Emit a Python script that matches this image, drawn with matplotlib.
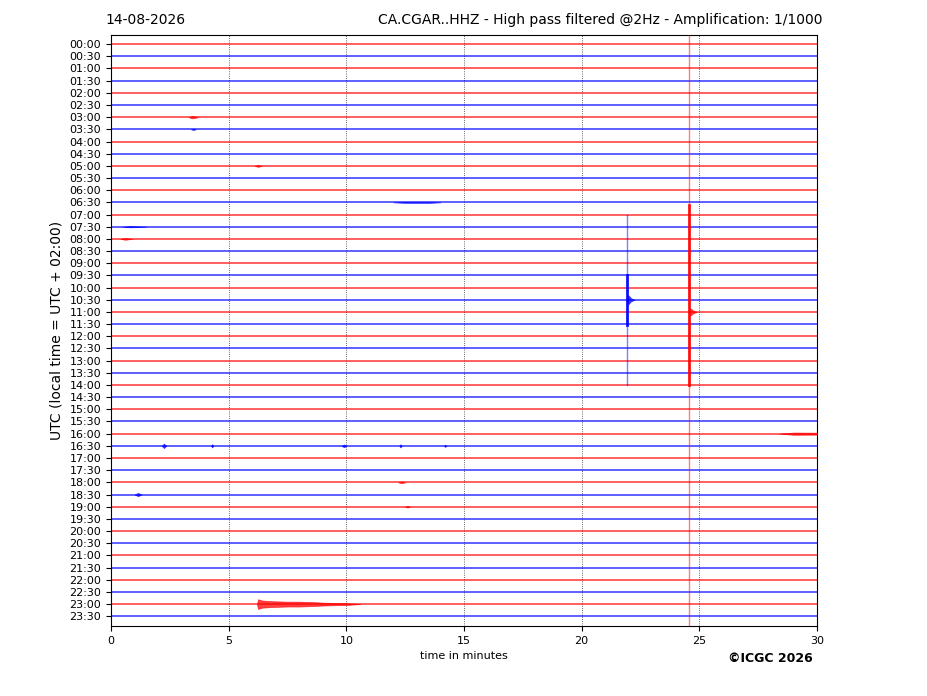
import matplotlib
matplotlib.use("Agg")
import matplotlib.pyplot as plt
import numpy as np

# ---------------- data ----------------
trace_labels = [f"{h:02d}:{m:02d}" for h in range(24) for m in (0, 30)]
trace_colors = ["red" if lab.endswith(":00") else "blue" for lab in trace_labels]

date_text = "14-08-2026"
title_text = "CA.CGAR..HHZ - High pass filtered @2Hz - Amplification: 1/1000"
x_ticks = [0, 5, 10, 15, 20, 25, 30]

# large off-scale arrivals: trace, time (min), core extent (trace units up/down), faint extent
spike_traces = ["10:30", "11:00"]
spike_times = [21.93, 24.56]
spike_core_up = [2.0, 8.8]
spike_core_down = [2.1, 6.0]
spike_faint_up = [7.0, 60.0]
spike_faint_down = [7.0, 60.0]

# small signals: trace, envelope times (min), envelope half-amplitudes (trace units)
blip_traces = ["03:00", "03:30", "05:00", "06:30", "07:30", "08:00",
               "10:30", "11:00",
               "16:00", "16:30", "16:30", "16:30", "16:30", "16:30",
               "18:00", "18:30", "19:00", "23:00"]
blip_times = [
    [3.3, 3.45, 3.7],
    [3.4, 3.5, 3.6],
    [6.1, 6.25, 6.4],
    [12.0, 12.5, 13.5, 14.0],
    [0.5, 0.8, 1.5],
    [0.4, 0.6, 0.9],
    [21.93, 21.98, 22.1, 22.25],
    [24.56, 24.62, 24.75, 24.9],
    [28.4, 29.0, 30.0],
    [2.15, 2.25, 2.35],
    [4.25, 4.3, 4.35],
    [9.8, 9.9, 10.0],
    [12.25, 12.3, 12.35],
    [14.15, 14.2, 14.25],
    [12.2, 12.35, 12.5],
    [1.0, 1.15, 1.3],
    [12.5, 12.6, 12.7],
    [6.2, 6.25, 6.4, 6.8, 7.5, 8.0, 8.6, 9.0, 10.0, 10.6],
]
blip_amps = [
    [0.0, 0.1, 0.0],
    [0.0, 0.05, 0.0],
    [0.0, 0.08, 0.0],
    [0.0, 0.04, 0.04, 0.0],
    [0.0, 0.05, 0.0],
    [0.0, 0.07, 0.0],
    [0.0, 0.38, 0.12, 0.0],
    [0.0, 0.3, 0.1, 0.0],
    [0.0, 0.09, 0.08],
    [0.0, 0.18, 0.0],
    [0.0, 0.13, 0.0],
    [0.0, 0.11, 0.0],
    [0.0, 0.13, 0.0],
    [0.0, 0.09, 0.0],
    [0.0, 0.07, 0.0],
    [0.0, 0.13, 0.0],
    [0.0, 0.07, 0.0],
    [0.0, 0.4, 0.3, 0.24, 0.2, 0.2, 0.16, 0.12, 0.07, 0.0],
]

# ---------------- figure ----------------
fig = plt.figure(figsize=(9.27, 6.96), dpi=100)
ax = fig.add_axes([111 / 927, 1 - 626 / 696, 706 / 927, 591 / 696])

n = len(trace_labels)
ypos = {lab: -i for i, lab in enumerate(trace_labels)}

for lab, col in zip(trace_labels, trace_colors):
    ax.plot([0, 30], [ypos[lab], ypos[lab]], color=col, lw=1.1, alpha=0.8, zorder=2)

for tr, t, cu, cd, fu, fd in zip(spike_traces, spike_times, spike_core_up,
                                 spike_core_down, spike_faint_up, spike_faint_down):
    col = trace_colors[trace_labels.index(tr)]
    y0 = ypos[tr]
    ax.plot([t, t], [y0 - fd, y0 + fu], color=col, lw=1.0, alpha=0.5, zorder=3)
    ax.plot([t, t], [y0 - cd, y0 + cu], color=col, lw=2.0, alpha=0.9, zorder=3)

for tr, ts, am in zip(blip_traces, blip_times, blip_amps):
    col = trace_colors[trace_labels.index(tr)]
    y0 = ypos[tr]
    ts = np.asarray(ts)
    am = np.asarray(am)
    ax.fill_between(ts, y0 - am, y0 + am, color=col, lw=0.5, alpha=0.75, zorder=3)

ax.set_xlim(0, 30)
ax.set_ylim(-(n - 1) - 0.8, 0.75)
ax.set_xticks(x_ticks)
ax.set_xticklabels([str(v) for v in x_ticks], fontsize=8)
ax.set_yticks([ypos[l] for l in trace_labels])
ax.set_yticklabels(trace_labels, fontsize=8)
for xv in x_ticks[1:-1]:
    ax.axvline(xv, color="black", ls=":", lw=0.6, alpha=0.8, zorder=1)

ax.set_xlabel("time in minutes", fontsize=8)
ax.set_ylabel("UTC (local time = UTC + 02:00)", fontsize=10)

fig.text(105 / 927, 1 - 20 / 696, date_text, fontsize=10, ha="left", va="center")
fig.text(822 / 927, 1 - 20 / 696, title_text, fontsize=10, ha="right", va="center")
fig.text(770 / 927, 1 - 659 / 696, "©ICGC 2026", fontsize=9, fontweight="bold",
         ha="center", va="center")

fig.savefig("out.png", dpi=100)
